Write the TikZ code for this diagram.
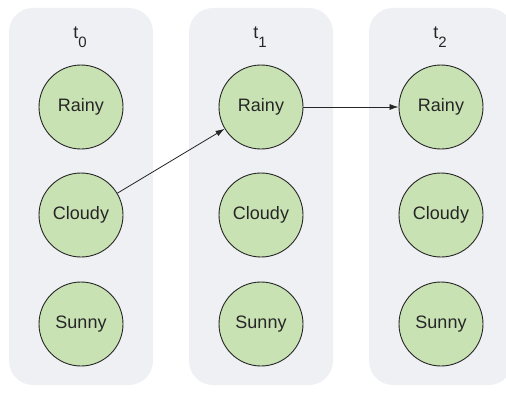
\documentclass[tikz,border=0pt]{standalone}
\usepackage{fontspec}
\setmainfont{Liberation Sans}
\usetikzlibrary{arrows.meta}
\definecolor{panelgray}{HTML}{EFF0F3}
\definecolor{stategreen}{HTML}{C9E2B4}
\definecolor{inkgray}{HTML}{262626}
\newcommand{\timestep}[1]{t\raisebox{-8pt}{\fontsize{15}{16}\selectfont #1}}

\begin{document}
\begin{tikzpicture}[x=1pt,y=1pt,
  panel/.style={fill=panelgray,rounded corners=24pt},
  weather/.style={circle,draw=inkgray,fill=stategreen,line width=0.9pt,minimum size=84pt,inner sep=0pt,font=\fontsize{18}{20}\selectfont,text=inkgray},
  timelabel/.style={font=\fontsize{18}{20}\selectfont,text=inkgray,anchor=base},
  move/.style={-{Latex[length=9pt,width=6pt]},line width=0.8pt,draw=inkgray}]
  \useasboundingbox (0,0) rectangle (506,392);
  \clip (0,0) rectangle (506,392);
  % Three time columns
  \fill[panel] (9,7) rectangle (153,384);
  \fill[panel] (189,7) rectangle (333,384);
  \fill[panel] (369,7) rectangle (513,384);
  % Time labels
  \node[timelabel] (t0) at (80,353) {\timestep{0}};
  \node[timelabel] (t1) at (260,353) {\timestep{1}};
  \node[timelabel] (t2) at (440,353) {\timestep{2}};

  % States at t0
  \node[weather] (r0) at (81,285) {Rainy};
  \node[weather] (c0) at (81,177) {Cloudy};
  \node[weather] (s0) at (81,68) {Sunny};
  % States at t1
  \node[weather] (r1) at (261,285) {Rainy};
  \node[weather] (c1) at (261,177) {Cloudy};
  \node[weather] (s1) at (261,68) {Sunny};
  % States at t2
  \node[weather] (r2) at (441,285) {Rainy};
  \node[weather] (c2) at (441,177) {Cloudy};
  \node[weather] (s2) at (441,68) {Sunny};

  % Transitions
  \draw[move] (c0) -- (r1);
  \draw[move] (r1) -- (r2);
\end{tikzpicture}
\end{document}
